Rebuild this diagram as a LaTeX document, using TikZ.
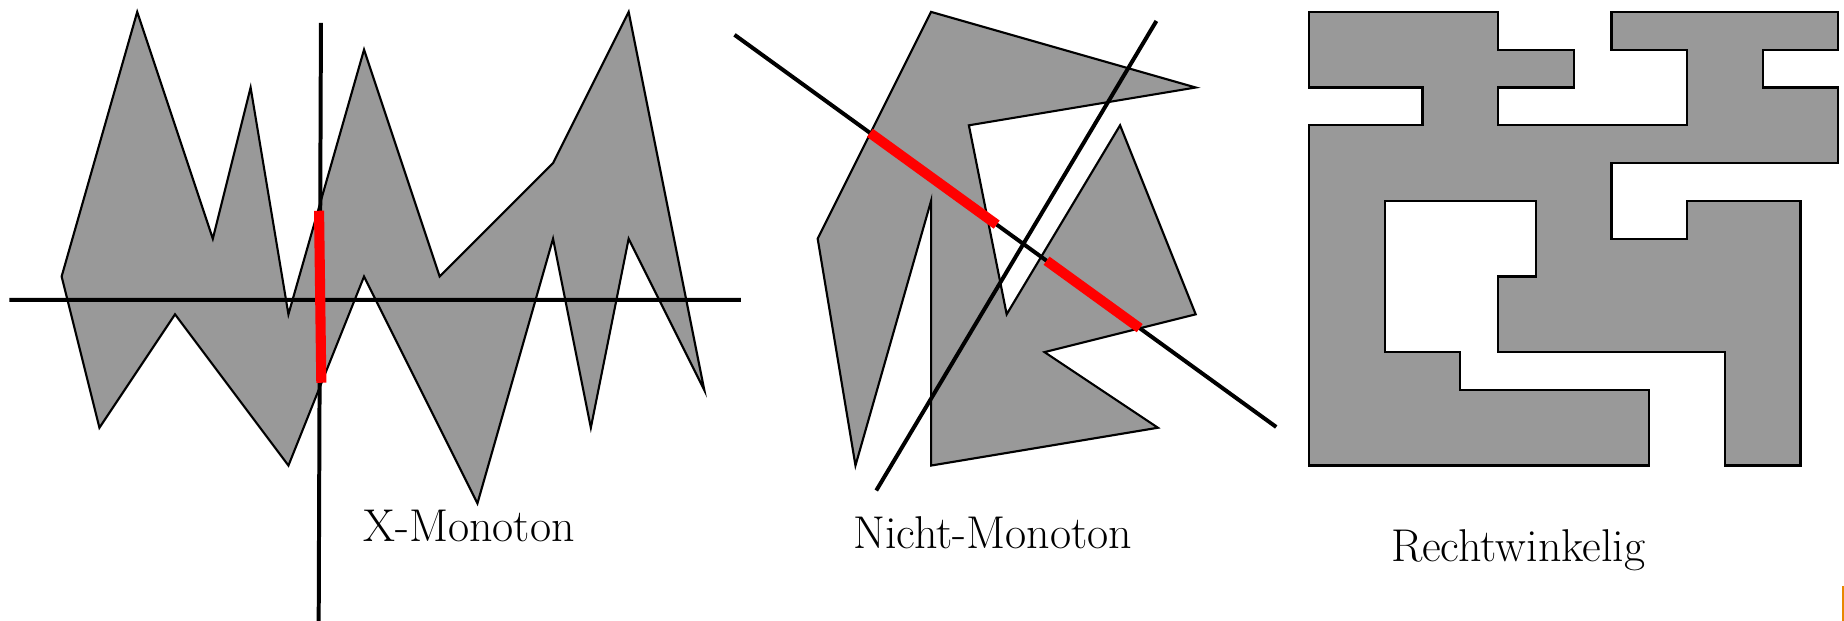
\documentclass[tikz,border=0pt]{standalone}
\usetikzlibrary{calc}
\definecolor{edgemark}{RGB}{232,135,0}
\begin{document}
\begin{tikzpicture}[x=0.5cm, y=-0.5cm, line join=miter, font=\fontsize{17.3}{20}\selectfont,
  poly/.style={draw=black, fill=black!40, line width=0.8pt},
  sweep/.style={line width=1.5pt},
  cut/.style={red, line width=3.8pt}]
\useasboundingbox (-0.63,-0.315) rectangle (48.15,16.09);
\path
(-0.38,7.62) coordinate (H1)
(18.97,7.62) coordinate (H2)
(7.86,0.29) coordinate (V1)
(7.80,16.2) coordinate (V2)
(7.81,5.26) coordinate (X1)
(7.87,9.81) coordinate (X2)
(18.80,0.606) coordinate (A1)
(33.13,10.98) coordinate (A2)
(22.55,12.66) coordinate (B1)
(29.96,0.24) coordinate (B2)
(48.12,15.18) coordinate (M1)
(48.12,16.2) coordinate (M2)
;
\draw[poly] (3,0)--(5,6)--(6,2)--(7,8)--(9,1)--(11,7)--(14,4)--(16,0)--(18,10)--(16,6)--(15,11)--(14,6)--(12,13)--(9,7)--(7,12)--(4,8)--(2,11)--(1,7)--cycle;
\draw[sweep] (H1)--(H2) (V1)--(V2);
\draw[cut] (X1)--(X2);
\draw[poly] (24,0)--(31,2)--(25,3)--(26,8)--(29,3)--(31,8)--(27,9)--(30,11)--(24,12)--(24,5)--(22,12)--(21,6)--cycle;
\draw[sweep] (A1)--(A2) (B1)--(B2);
\foreach \s/\e in {0.250/0.484, 0.576/0.748}
\draw[cut] ($(A1)!\s!(A2)$)--($(A1)!\e!(A2)$);
\begin{scope}[shift={(34,0)}]
\draw[poly] (0,0)--(5,0)--(5,1)--(7,1)--(7,2)--(5,2)--(5,3)--(10,3)--(10,1)--(8,1)--(8,0)--(14,0)--(14,1)--(12,1)--(12,2)--(14,2)--(14,4)--(8,4)--(8,6)--(10,6)--(10,5)--(13,5)--(13,12)--(11,12)--(11,9)--(5,9)--(5,7)--(6,7)--(6,5)--(2,5)--(2,9)--(4,9)--(4,10)--(9,10)--(9,12)--(0,12)--(0,3)--(3,3)--(3,2)--(0,2)--cycle;
\end{scope}
\draw[edgemark, line width=0.75pt] (M1)--(M2);
\node[anchor=base] (xmono) at (11.78,14.02) {X-Monoton};
\node[anchor=base] (nmono) at (25.63,14.2) {Nicht-Monoton};
\node[anchor=base] (recht) at (39.53,14.54) {Rechtwinkelig};
\end{tikzpicture}
\end{document}
